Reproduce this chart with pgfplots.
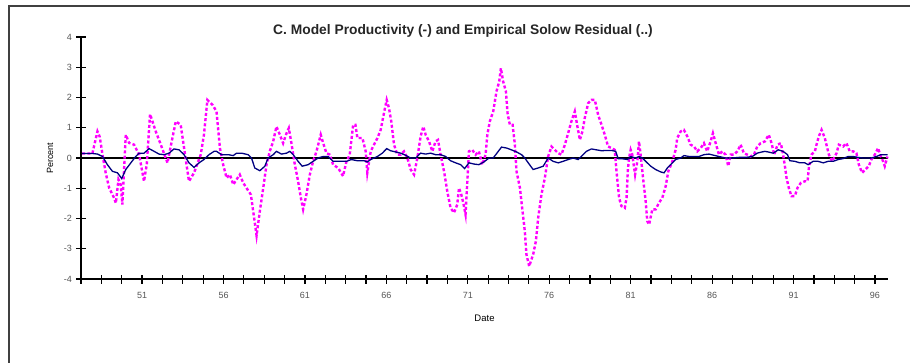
\documentclass[border=0pt]{standalone}
\usepackage{fontspec}
\setmainfont{Liberation Sans}
\usepackage{pgfplots}
\pgfplotsset{compat=1.18}
\definecolor{navyline}{RGB}{0,0,128}
\definecolor{pinkline}{RGB}{255,0,255}
\definecolor{ticklab}{RGB}{85,85,85}
\begin{document}
\begin{tikzpicture}[x=1pt,y=1pt]
\path[use as bounding box] (0,0) rectangle (910,362);
\draw[line width=1.6pt, black!75] (9,-10) -- (9,356) -- (920,356);
\node[font=\bfseries\fontsize{13.8}{16}\selectfont, text=black!85] at (463,331) {C. Model Productivity (-) and Empirical Solow Residual (..)};
\begin{axis}[
  at={(81pt,83pt)}, anchor=south west,
  scale only axis, width=807pt, height=242pt,
  xmin=47.25, xmax=96.8, ymin=-4, ymax=4,
  axis x line*=bottom, axis y line*=left,
  axis line style={line width=1.3pt, -},
  xtick={51,56,...,96},
  minor xtick={47.25,48.5,...,96.1},
  ytick={-4,-3,...,4},
  tick align=center,
  major tick length=9pt, minor tick length=9pt,
  tick style={line width=1.2pt, black},
  every minor tick/.style={line width=1.2pt, black},
  /pgf/number format/assume math mode=true,
  ticklabel style={font=\fontsize{9}{10}\selectfont, text=ticklab},
  xticklabel style={yshift=-5pt},
  yticklabel style={xshift=-1pt},
  xlabel={Date}, ylabel={Percent},
  xlabel style={font=\fontsize{9.5}{11}\selectfont, yshift=-10pt},
  ylabel style={font=\fontsize{9}{10}\selectfont, yshift=4pt},
  clip=false,
]
\addplot[black, line width=1.6pt] coordinates {(47.25,0) (96.8,0)};
% Empirical Solow residual
\addplot[pinkline, line width=2.4pt, dash pattern=on 3pt off 2.2pt] coordinates {
(47.32,0.15) (47.95,0.15) (48.26,0.88) (48.4,0.7) (48.57,0.11) (48.77,-0.5)
(48.98,-0.99) (49.28,-1.32) (49.39,-1.49) (49.55,-0.71) (49.69,-0.88) (49.79,-1.54)
(50.0,0.77) (50.2,0.5) (50.51,0.44) (50.82,0.11) (51.12,-0.77) (51.29,-0.2)
(51.49,1.45) (51.84,0.88) (52.15,0.44) (52.56,-0.16) (52.86,0.66) (53.07,1.21)
(53.37,1.1) (53.58,0.33) (53.88,-0.77) (54.19,-0.49) (54.6,0.11) (54.8,0.77)
(55.01,1.92) (55.32,1.76) (55.57,1.54)
(55.78,0.33) (55.98,-0.22) (56.19,-0.66) (56.39,-0.55) (56.6,-0.88) (56.8,-0.71)
(57.0,-0.55) (57.21,-0.82) (57.41,-0.99) (57.68,-1.21) (57.88,-1.98) (58.03,-2.57)
(58.23,-1.76) (58.44,-0.99) (58.64,-0.22) (58.84,0.22) (59.05,0.55) (59.25,1.04)
(59.46,0.77) (59.66,0.49) (59.87,0.82) (60.01,0.99) (60.17,0.49) (60.38,-0.22)
(60.58,-0.77) (60.75,-1.32) (60.89,-1.7) (61.09,-1.21) (61.3,-0.55) (61.5,-0.11)
(61.71,0.22) (61.97,0.77) (62.12,0.49) (62.32,0.16) (62.53,0.11) (62.73,-0.22)
(63.04,-0.33) (63.34,-0.6) (63.55,-0.11) (63.75,0.11) (63.96,1.1)
(64.1,1.1) (64.22,0.66) (64.53,0.66) (64.73,0.22) (64.83,-0.49) (65.04,0.22)
(65.24,0.44) (65.45,0.66) (65.65,0.93) (65.85,1.48) (66.02,1.92) (66.16,1.65)
(66.3,1.21) (66.47,0.44) (66.67,0.11) (66.88,0.11) (67.08,0.22) (67.29,0.0)
(67.49,-0.38) (67.7,-0.55) (67.9,0.0) (68.1,0.71) (68.27,1.04) (68.41,0.77)
(68.62,0.55) (68.82,0.22) (69.02,0.55) (69.17,0.6) (69.33,0.11) (69.54,-0.44)
(69.74,-1.1) (69.94,-1.65) (70.15,-1.81) (70.35,-1.54) (70.46,-0.99) (70.6,-1.21)
(70.72,-1.48) (70.86,-1.87) (70.97,-0.77) (71.07,0.22) (71.27,0.27) (71.48,0.11)
(71.68,0.22) (71.89,-0.22) (72.09,0.11)
(72.2,0.77) (72.35,1.21) (72.56,1.54) (72.76,2.2) (72.93,2.53) (73.03,2.97)
(73.17,2.53) (73.34,2.2) (73.44,1.48) (73.58,1.1) (73.75,1.1) (73.89,0.44)
(73.99,-0.44) (74.2,-0.99) (74.36,-1.76) (74.5,-2.42) (74.6,-3.19) (74.77,-3.58)
(75.01,-3.19) (75.18,-2.75) (75.32,-1.98) (75.52,-1.21) (75.73,-0.66) (75.93,0.05)
(76.14,0.38) (76.34,0.27) (76.55,0.16) (76.75,0.11) (76.96,0.44) (77.16,0.82)
(77.36,1.21) (77.57,1.54) (77.71,1.1) (77.88,0.6) (78.04,0.88) (78.18,1.32)
(78.39,1.81) (78.59,1.92) (78.8,1.92) (79.0,1.43) (79.21,1.1) (79.41,0.77)
(79.61,0.38) (79.82,0.33) (80.02,0.27) (80.13,-0.44) (80.29,-1.32) (80.43,-1.59)
(80.64,-1.65) (80.75,-1.3) (80.82,-0.44) (80.9,0.0) (81.0,0.27) (81.1,0.11)
(81.27,-0.55) (81.41,-0.11) (81.51,0.55) (81.61,0.11) (81.76,-0.66) (81.92,-1.43)
(82.02,-2.09) (82.13,-2.2) (82.33,-1.7) (82.53,-1.7) (82.74,-1.48) (82.94,-1.32)
(83.15,-0.93) (83.31,-0.44) (83.56,-0.11) (83.76,0.27) (83.86,0.66) (84.07,0.88)
(84.27,0.93) (84.48,0.71) (84.68,0.44) (84.89,0.38) (85.09,0.22) (85.3,0.33)
(85.5,0.49) (85.7,0.22) (85.91,0.55) (86.05,0.82) (86.22,0.49) (86.42,0.11)
(86.62,0.22) (86.83,0.11) (86.99,-0.27) (87.14,0.11) (87.34,0.11) (87.55,0.22)
(87.75,0.44) (87.95,0.16) (88.16,0.11) (88.36,0.05) (88.57,0.11) (88.77,0.38)
(88.98,0.49) (89.24,0.55) (89.48,0.77) (89.65,0.49) (89.81,0.11) (90.02,0.44)
(90.22,0.49) (90.36,0.11) (90.47,-0.27) (90.57,-0.66) (90.71,-0.99) (90.87,-1.26)
(91.08,-1.26) (91.24,-0.99) (91.45,-0.82) (91.69,-0.77) (91.86,-0.77) (91.94,-0.33)
(92.1,0.11) (92.31,0.22) (92.41,0.44) (92.55,0.71) (92.72,0.93) (92.92,0.66)
(93.02,0.44) (93.17,0.11) (93.37,-0.11) (93.64,0.16) (93.78,0.44) (94.04,0.38)
(94.25,0.49) (94.45,0.22) (94.66,0.22) (94.86,0.16) (95.01,-0.22) (95.21,-0.49)
(95.41,-0.38) (95.62,-0.27) (95.78,-0.05) (95.99,0.11) (96.19,0.33) (96.36,0.05)
(96.5,-0.11) (96.6,-0.27) (96.77,0.05)
};
% Model productivity
\addplot[navyline, line width=1.3pt] coordinates {
(47.32,0.15) (47.95,0.15) (48.26,0.13) (48.57,0.05) (48.87,-0.22) (49.18,-0.44)
(49.49,-0.49) (49.75,-0.68) (50.0,-0.38) (50.31,-0.16) (50.61,0.05) (50.82,0.16)
(51.12,0.16) (51.43,0.31) (51.74,0.22) (52.04,0.13) (52.35,0.11) (52.66,0.16)
(52.96,0.30) (53.27,0.27) (53.58,0.11) (53.88,-0.16) (54.19,-0.31) (54.5,-0.16)
(54.8,-0.05) (55.11,0.11) (55.42,0.22)
(55.57,0.22) (55.88,0.11) (56.29,0.11) (56.6,0.08) (56.8,0.16) (57.11,0.16)
(57.51,0.11) (57.72,0.0) (57.92,-0.33) (58.23,-0.42) (58.54,-0.27) (58.74,0.0)
(59.05,0.11) (59.25,0.22) (59.56,0.13) (59.87,0.16) (60.07,0.22) (60.28,0.11)
(60.58,-0.11) (60.83,-0.27) (61.2,-0.22) (61.5,-0.11) (61.81,0.0) (62.12,0.05)
(62.42,0.05) (62.73,-0.11) (63.14,-0.11) (63.55,-0.11) (63.85,-0.05)
(64.22,-0.09) (64.63,-0.09) (64.83,-0.13) (65.04,-0.05) (65.45,0.05) (65.75,0.16)
(66.02,0.31) (66.26,0.24) (66.57,0.2) (66.88,0.16) (67.18,0.09) (67.49,0.0)
(67.8,0.0) (68.1,0.16) (68.41,0.13) (68.72,0.16) (69.02,0.11) (69.33,0.11)
(69.64,0.05) (69.94,-0.09) (70.25,-0.16) (70.56,-0.22) (70.8,-0.35) (71.07,-0.16)
(71.38,-0.2) (71.68,-0.22) (71.99,-0.13) (72.3,0.0)
(72.56,0.0) (72.87,0.22) (73.07,0.36) (73.38,0.33) (73.68,0.27) (73.99,0.2)
(74.3,0.11) (74.5,0.0) (74.71,-0.16) (75.01,-0.38) (75.32,-0.33) (75.63,-0.27)
(75.93,0.0) (76.24,-0.11) (76.55,-0.16) (76.85,-0.11) (77.16,-0.05) (77.47,0.0)
(77.77,-0.05) (78.08,0.11) (78.28,0.22) (78.59,0.3) (78.9,0.27) (79.21,0.24)
(79.51,0.25) (79.82,0.25) (80.08,0.22) (80.23,-0.02) (80.43,-0.02)
(80.8,-0.05) (81.0,0.05) (81.31,0.0) (81.51,0.05) (81.72,0.0) (81.92,-0.11)
(82.23,-0.27) (82.53,-0.38) (82.84,-0.46) (83.05,-0.49) (83.25,-0.33) (83.56,-0.16)
(83.76,-0.05) (84.07,0.0) (84.27,0.08) (84.58,0.05) (85.19,0.05) (85.5,0.11)
(85.81,0.13) (86.11,0.09) (86.42,0.05) (86.83,0.0) (87.24,0.0) (87.65,0.02)
(88.06,0.02) (88.47,0.05) (88.77,0.16) (88.98,0.19)
(89.24,0.22) (89.44,0.2) (89.75,0.16) (90.06,0.27) (90.36,0.22) (90.63,0.11)
(90.77,-0.09) (91.08,-0.11) (91.39,-0.16) (91.69,-0.16) (91.9,-0.22) (92.2,-0.11)
(92.51,-0.11) (92.82,-0.16) (93.12,-0.11) (93.43,-0.11) (93.74,-0.05) (94.04,-0.02)
(94.35,0.05) (94.66,0.05) (94.96,0.02) (95.27,0.0) (95.78,0.0) (96.09,0.05)
(96.36,0.11) (96.77,0.11)
};
\end{axis}
\end{tikzpicture}
\end{document}
